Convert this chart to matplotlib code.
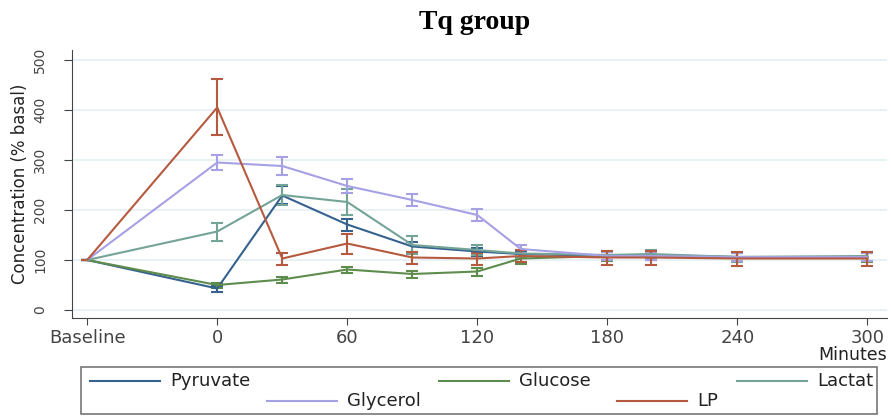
import numpy as np
import matplotlib.pyplot as plt
from matplotlib.patches import Rectangle

# time points in minutes; baseline is drawn at -60
minutes = [-60, 0, 30, 60, 90, 120, 140, 180, 200, 240, 300]
tick_pos = [-60, 0, 60, 120, 180, 240, 300]
tick_labels = ['Baseline', '0', '60', '120', '180', '240', '300']

pyruvate = [100, 43, 229, 171, 127, 117, 112, 108, 108, 106, 106]
pyruvate_err = [0, 6, 18, 12, 10, 8, 7, 8, 8, 8, 8]
glucose = [100, 50, 61, 81, 72, 77, 103, 108, 110, 106, 106]
glucose_err = [0, 5, 6, 6, 7, 8, 10, 9, 9, 9, 9]
lactate = [100, 157, 230, 216, 130, 120, 113, 110, 112, 106, 108]
lactate_err = [0, 18, 20, 25, 18, 10, 8, 9, 9, 9, 9]
glycerol = [100, 295, 288, 248, 220, 190, 122, 108, 108, 106, 106]
glycerol_err = [0, 15, 18, 14, 12, 12, 8, 8, 8, 8, 8]
lp = [100, 405, 103, 133, 105, 103, 108, 105, 105, 103, 103]
lp_err = [0, 56, 12, 20, 12, 12, 12, 14, 14, 14, 14]

colors = {
    'Pyruvate': '#35628e',
    'Glucose': '#5e8c4c',
    'Lactat': '#74a398',
    'Glycerol': '#a6a0e4',
    'LP': '#b65a3f',
}
series = [
    ('Pyruvate', pyruvate, pyruvate_err),
    ('Glucose', glucose, glucose_err),
    ('Lactat', lactate, lactate_err),
    ('Glycerol', glycerol, glycerol_err),
    ('LP', lp, lp_err),
]

W, H = 891, 419
fig = plt.figure(figsize=(W / 100, H / 100), dpi=100)
ax = fig.add_axes([72/W, 101/H, 815/W, 268/H])

for name, vals, err in series:
    ax.errorbar(minutes, vals, yerr=err, color=colors[name], lw=1.5,
                elinewidth=1.5, capsize=4.5, capthick=1.5)

ax.set_xlim(-67, 309)
ax.set_ylim(-16, 520)
ax.set_yticks([0, 100, 200, 300, 400, 500])
ax.set_yticklabels(['0', '100', '200', '300', '400', '500'], rotation=90,
                   va='center', fontsize=10, color='#222222')
ax.set_xticks(tick_pos)
ax.set_xticklabels(tick_labels, fontsize=13, color='#222222')
ax.yaxis.grid(True, color='#e4eff2', lw=1.2)
ax.set_axisbelow(True)
for s in ['top', 'right']:
    ax.spines[s].set_visible(False)
for s in ['left', 'bottom']:
    ax.spines[s].set_color('#444444')
ax.tick_params(axis='y', colors='#444444', length=6, pad=12)
ax.tick_params(axis='x', colors='#444444', length=5, pad=3)
ax.set_ylabel('Concentration (% basal)', fontsize=12, color='#222222', labelpad=3)
fig.text(887/W, 1 - 355/H, 'Minutes', ha='right', va='center',
         fontsize=12.5, color='#222222')

fig.text(475/W, 1 - 29/H, 'Tq group', ha='center', va='baseline',
         fontsize=20, fontweight='bold', family='Liberation Serif')

# legend box drawn by hand; the last entry is cut by the frame
box = Rectangle((81/W, 1 - 414/H), 796/W, 47/H, transform=fig.transFigure,
                fill=False, edgecolor='#777777', lw=1.2)
fig.add_artist(box)
legend_items = [
    ('Pyruvate', 90, 381),
    ('Glucose', 439, 381),
    ('Lactat', 737, 381),
    ('Glycerol', 267, 401),
    ('LP', 617, 401),
]
for label, x0, y0 in legend_items:
    yy = 1 - y0 / H
    fig.add_artist(plt.Line2D([x0 / W, (x0 + 70) / W], [yy, yy],
                              transform=fig.transFigure,
                              color=colors[label], lw=1.5))
    t = fig.text((x0 + 80) / W, yy, label, ha='left', va='center',
                 fontsize=13, color='#222222')
    t.set_clip_path(box)

fig.savefig('out.png', dpi=100)
